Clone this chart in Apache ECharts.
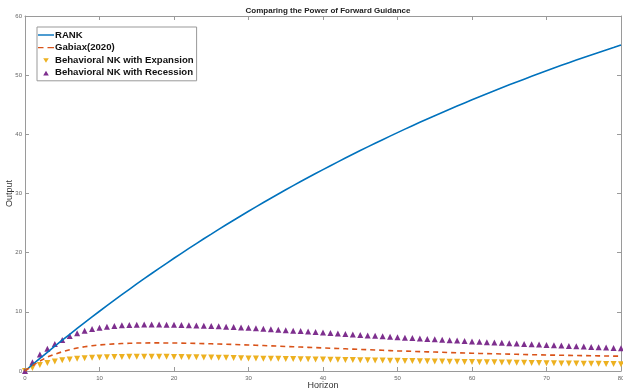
<!DOCTYPE html>
<html>
<head>
<meta charset="utf-8">
<script src="https://cdn.jsdelivr.net/npm/echarts@6/dist/echarts.min.js"></script>
<style>
html, body { margin: 0; padding: 0; background: #fff; }
#chart { width: 623px; height: 388px; }
</style>
</head>
<body>
<div id="chart"></div>
<script>
// Horizon (quarters) and impulse responses of output
const horizon = [];
for (let h = 0; h <= 80; h++) horizon.push(h);

const rank = [0, 1.07, 2.12, 3.16, 4.19, 5.20, 6.20, 7.19, 8.17, 9.14,
  10.10, 11.04, 11.98, 12.90, 13.81, 14.71, 15.60, 16.48, 17.35, 18.20,
  19.05, 19.89, 20.72, 21.54, 22.35, 23.14, 23.94, 24.71, 25.48, 26.24,
  27.00, 27.74, 28.47, 29.20, 29.92, 30.63, 31.33, 32.02, 32.70, 33.37,
  34.04, 34.70, 35.35, 36.00, 36.63, 37.26, 37.88, 38.50, 39.10, 39.70,
  40.29, 40.88, 41.46, 42.03, 42.59, 43.15, 43.70, 44.24, 44.78, 45.31,
  45.83, 46.35, 46.87, 47.37, 47.87, 48.36, 48.85, 49.33, 49.81, 50.28,
  50.75, 51.21, 51.66, 52.11, 52.55, 52.99, 53.42, 53.85, 54.27, 54.68, 55.11];

const gabaix = [0, 0.9, 1.7, 2.35, 2.85, 3.25, 3.6, 3.88, 4.1, 4.27,
  4.4, 4.5, 4.58, 4.64, 4.69, 4.72, 4.74, 4.75, 4.75, 4.74,
  4.73, 4.71, 4.69, 4.66, 4.63, 4.6, 4.56, 4.52, 4.48, 4.44,
  4.4, 4.35, 4.3, 4.25, 4.2, 4.15, 4.1, 4.05, 4.0, 3.95,
  3.9, 3.85, 3.8, 3.75, 3.7, 3.65, 3.6, 3.55, 3.5, 3.45,
  3.4, 3.36, 3.32, 3.28, 3.24, 3.2, 3.16, 3.12, 3.08, 3.04,
  3.0, 2.97, 2.94, 2.91, 2.88, 2.85, 2.82, 2.79, 2.76, 2.73,
  2.7, 2.68, 2.66, 2.64, 2.62, 2.6, 2.58, 2.56, 2.54, 2.52, 2.5];

const expansion = [0, 0.5, 1.0, 1.35, 1.6, 1.8, 1.95, 2.05, 2.15, 2.22,
  2.28, 2.32, 2.36, 2.38, 2.4, 2.4, 2.41, 2.41, 2.4, 2.39,
  2.38, 2.36, 2.34, 2.32, 2.3, 2.28, 2.25, 2.22, 2.19, 2.16,
  2.13, 2.11, 2.09, 2.07, 2.05, 2.03, 2.01, 1.99, 1.97, 1.95,
  1.93, 1.91, 1.89, 1.87, 1.85, 1.83, 1.81, 1.79, 1.76, 1.74,
  1.72, 1.70, 1.68, 1.66, 1.64, 1.62, 1.60, 1.58, 1.56, 1.54,
  1.52, 1.50, 1.48, 1.46, 1.44, 1.42, 1.40, 1.38, 1.36, 1.34,
  1.32, 1.30, 1.28, 1.27, 1.25, 1.24, 1.22, 1.21, 1.19, 1.18, 1.16];

const recession = [0, 1.5, 2.8, 3.75, 4.55, 5.25, 5.9, 6.4, 6.8, 7.1,
  7.3, 7.5, 7.62, 7.72, 7.78, 7.82, 7.84, 7.85, 7.84, 7.82,
  7.80, 7.77, 7.73, 7.69, 7.65, 7.60, 7.55, 7.49, 7.43, 7.37,
  7.30, 7.22, 7.14, 7.06, 6.98, 6.90, 6.82, 6.74, 6.66, 6.58,
  6.50, 6.42, 6.34, 6.26, 6.18, 6.10, 6.02, 5.94, 5.86, 5.78,
  5.70, 5.63, 5.56, 5.49, 5.42, 5.35, 5.28, 5.21, 5.14, 5.07,
  5.00, 4.94, 4.88, 4.82, 4.76, 4.70, 4.64, 4.58, 4.52, 4.46,
  4.40, 4.34, 4.29, 4.23, 4.18, 4.12, 4.07, 4.01, 3.96, 3.90, 3.85];

const seriesNames = ['RANK', 'Gabiax(2020)', 'Behavioral NK with Expansion', 'Behavioral NK with Recession'];
const xTicks = { min: 0, max: 80, interval: 10 };
const yTicks = { min: 0, max: 60, interval: 10 };

const pairs = vals => horizon.map((h, i) => [h, vals[i]]);

// Legend glyphs: the leading moveTo points pin a 16x10 box so each glyph keeps its size
const iconSolid = 'path://M0,0M16,10M0,4.3L16,4.3L16,5.7L0,5.7Z';
const iconDashed = 'path://M0,0M16,10M0,4.3L5.5,4.3L5.5,5.7L0,5.7Z M9.5,4.3L16,4.3L16,5.7L9.5,5.7Z';
const iconDown = 'path://M0,0M16,10M5.2,3L10.8,3L8,7.6Z';
const iconUp = 'path://M0,0M16,10M5.2,7.6L10.8,7.6L8,3Z';

const axisGray = '#9a9a9a';
const tickLabel = { fontSize: 6, color: '#666', fontFamily: 'Liberation Sans' };

const chart = echarts.init(document.getElementById('chart'), null, { renderer: 'canvas' });
chart.setOption({
  animation: false,
  backgroundColor: '#fff',
  title: {
    text: 'Comparing the Power of Forward Guidance',
    left: 323, top: 2, textAlign: 'center',
    textStyle: { fontSize: 8, fontWeight: 'bold', color: '#222', fontFamily: 'Liberation Sans' }
  },
  grid: { left: 25, right: 2, top: 16, bottom: 17, containLabel: false, outerBoundsMode: 'none' },
  legend: {
    orient: 'vertical', left: 37, top: 27,
    backgroundColor: '#fff', borderColor: '#999', borderWidth: 1,
    padding: [3, 3, 3, 1], itemGap: 2.6, itemWidth: 16, itemHeight: 10,
    textStyle: { fontSize: 9.6, fontWeight: 'bold', color: '#111', fontFamily: 'Liberation Sans', padding: [0, 0, 0, -4] },
    data: [
      { name: seriesNames[0], icon: iconSolid, itemStyle: { color: '#0072BD' } },
      { name: seriesNames[1], icon: iconDashed, itemStyle: { color: '#D95319' } },
      { name: seriesNames[2], icon: iconDown, itemStyle: { color: '#EDB120' } },
      { name: seriesNames[3], icon: iconUp, itemStyle: { color: '#7E2F8E' } }
    ]
  },
  xAxis: [{
    type: 'value', min: xTicks.min, max: xTicks.max, interval: xTicks.interval,
    name: 'Horizon', nameLocation: 'middle', nameGap: 10, nameMoveOverlap: false,
    nameTextStyle: { fontSize: 9, color: '#333', fontFamily: 'Liberation Sans', verticalAlign: 'top' },
    axisLine: { show: true, lineStyle: { color: axisGray, width: 1 } },
    axisTick: { show: true, inside: true, length: 4, lineStyle: { color: axisGray } },
    axisLabel: Object.assign({ margin: 4 }, tickLabel),
    splitLine: { show: false }
  }, {
    type: 'value', position: 'top', min: xTicks.min, max: xTicks.max, interval: xTicks.interval,
    axisLine: { show: true, onZero: false, lineStyle: { color: axisGray, width: 1 } },
    axisTick: { show: true, inside: true, length: 4, lineStyle: { color: axisGray } },
    axisLabel: { show: false }, splitLine: { show: false }
  }],
  yAxis: [{
    type: 'value', min: yTicks.min, max: yTicks.max, interval: yTicks.interval,
    name: 'Output', nameLocation: 'middle', nameGap: 11, nameRotate: 90, nameMoveOverlap: false,
    nameTextStyle: { fontSize: 9, color: '#333', fontFamily: 'Liberation Sans' },
    axisLine: { show: true, lineStyle: { color: axisGray, width: 1 } },
    axisTick: { show: true, inside: true, length: 4, lineStyle: { color: axisGray } },
    axisLabel: Object.assign({ margin: 3 }, tickLabel),
    splitLine: { show: false }
  }, {
    type: 'value', position: 'right', min: yTicks.min, max: yTicks.max, interval: yTicks.interval,
    axisLine: { show: true, onZero: false, lineStyle: { color: axisGray, width: 1 } },
    axisTick: { show: true, inside: true, length: 4, lineStyle: { color: axisGray } },
    axisLabel: { show: false }, splitLine: { show: false }
  }],
  series: [{
    name: seriesNames[0], type: 'line', data: pairs(rank),
    showSymbol: false, symbol: 'none',
    lineStyle: { color: '#0072BD', width: 1.6 }, itemStyle: { color: '#0072BD' }
  }, {
    name: seriesNames[1], type: 'line', data: pairs(gabaix),
    showSymbol: false, symbol: 'none',
    lineStyle: { color: '#D95319', width: 1.6, type: [5, 4] }, itemStyle: { color: '#D95319' }
  }, {
    name: seriesNames[2], type: 'scatter', data: pairs(expansion),
    symbol: 'triangle', symbolRotate: 180, symbolSize: 6,
    itemStyle: { color: '#EDB120', opacity: 1 }
  }, {
    name: seriesNames[3], type: 'scatter', data: pairs(recession),
    symbol: 'triangle', symbolSize: 6,
    itemStyle: { color: '#7E2F8E', opacity: 1 }
  }]
});
</script>
</body>
</html>
